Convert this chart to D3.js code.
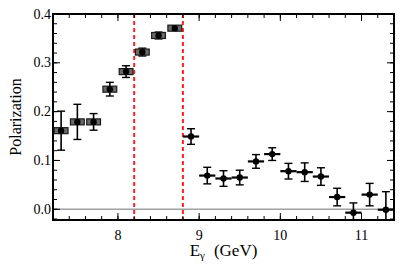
<!DOCTYPE html>
<html>
<head>
<meta charset="utf-8">
<script src="https://cdn.jsdelivr.net/npm/d3@7.9.0/dist/d3.min.js"></script>
<style>
  body { margin: 0; background: #fff; }
</style>
</head>
<body>
<div id="chart"></div>
<script>
// bin centres (GeV), polarization and its error
const energies = [7.3, 7.5, 7.7, 7.9, 8.1, 8.3, 8.5, 8.7, 8.9, 9.1, 9.3, 9.5, 9.7, 9.9, 10.1, 10.3, 10.5, 10.7, 10.9, 11.1, 11.3];
const polarization = [0.161, 0.179, 0.179, 0.246, 0.282, 0.322, 0.356, 0.371, 0.149, 0.069, 0.063, 0.065, 0.098, 0.113, 0.078, 0.076, 0.067, 0.025, -0.007, 0.030, -0.001];
const errors = [0.040, 0.036, 0.017, 0.014, 0.012, 0.008, 0.007, 0.005, 0.016, 0.017, 0.016, 0.015, 0.014, 0.013, 0.016, 0.019, 0.018, 0.018, 0.020, 0.023, 0.037];
// the coherent peak points are drawn as grey boxes
const boxed = [true, true, true, true, true, true, true, true, false, false, false, false, false, false, false, false, false, false, false, false, false];
const binHalfWidth = 0.1;
const cutLines = [8.2, 8.8];
const xTicks = [8, 9, 10, 11];
const yTicks = [0.0, 0.1, 0.2, 0.3, 0.4];

const width = 415;
const height = 267;
const margin = { top: 14, right: 21, bottom: 47, left: 53 };
const serif = "'Liberation Serif', 'Times New Roman', Times, 'DejaVu Serif', serif";

const svg = d3.select('#chart')
  .append('svg')
  .attr('width', width)
  .attr('height', height)
  .attr('font-family', serif)
  .style('font-family', serif);

const xScale = d3.scaleLinear()
  .domain([7.2, 11.4])
  .range([margin.left, width - margin.right]);

const yScale = d3.scaleLinear()
  .domain([-0.022, 0.4])
  .range([height - margin.bottom, margin.top]);

const data = energies.map((e, i) => ({
  e, p: polarization[i], err: errors[i], boxed: boxed[i]
}));

// zero line
svg.append('line')
  .attr('x1', xScale(7.2)).attr('x2', xScale(11.4))
  .attr('y1', yScale(0)).attr('y2', yScale(0))
  .attr('stroke', '#a0a0a0')
  .attr('stroke-width', 1.3);

// cut lines
svg.append('g')
  .selectAll('line')
  .data(cutLines)
  .join('line')
  .attr('x1', (d) => xScale(d)).attr('x2', (d) => xScale(d))
  .attr('y1', yScale(0.4)).attr('y2', yScale(-0.022))
  .attr('stroke', '#ff2020')
  .attr('stroke-width', 2)
  .attr('stroke-dasharray', '4,3');

// axes: ticks inward on all four sides
const innerW = width - margin.left - margin.right;
const innerH = height - margin.top - margin.bottom;
const xMinor = d3.range(7.2, 11.41, 0.2).map((d) => +d.toFixed(1));
const yMinor = d3.range(-0.02, 0.401, 0.02).map((d) => +d.toFixed(2));

function drawX(y, labels) {
  const g = svg.append('g').attr('transform', `translate(0, ${y})`);
  const dir = labels ? -1 : 1;
  g.selectAll('.minor').data(xMinor).join('line')
    .attr('x1', (d) => xScale(d)).attr('x2', (d) => xScale(d))
    .attr('y1', 0).attr('y2', dir * 4)
    .attr('stroke', '#000');
  g.selectAll('.major').data(xTicks).join('line')
    .attr('x1', (d) => xScale(d)).attr('x2', (d) => xScale(d))
    .attr('y1', 0).attr('y2', dir * 7)
    .attr('stroke', '#000');
  if (labels) {
    g.selectAll('text').data(xTicks).join('text')
      .attr('x', (d) => xScale(d))
      .attr('y', 20)
      .attr('text-anchor', 'middle')
      .attr('font-size', 14)
      .text((d) => d);
  }
}

function drawY(x, labels) {
  const g = svg.append('g').attr('transform', `translate(${x}, 0)`);
  const dir = labels ? 1 : -1;
  g.selectAll('.minor').data(yMinor).join('line')
    .attr('y1', (d) => yScale(d)).attr('y2', (d) => yScale(d))
    .attr('x1', 0).attr('x2', dir * 4)
    .attr('stroke', '#000');
  g.selectAll('.major').data(yTicks).join('line')
    .attr('y1', (d) => yScale(d)).attr('y2', (d) => yScale(d))
    .attr('x1', 0).attr('x2', dir * 7)
    .attr('stroke', '#000');
  if (labels) {
    g.selectAll('text').data(yTicks).join('text')
      .attr('x', -2)
      .attr('y', (d) => yScale(d) + 4.5)
      .attr('text-anchor', 'end')
      .attr('font-size', 14)
      .text((d) => d3.format('.1f')(d));
  }
}

drawX(height - margin.bottom, true);
drawX(margin.top, false);
drawY(margin.left, true);
drawY(width - margin.right, false);

// frame
svg.append('rect')
  .attr('x', margin.left).attr('y', margin.top)
  .attr('width', innerW).attr('height', innerH)
  .attr('fill', 'none')
  .attr('stroke', '#000')
  .attr('stroke-width', 2);

// points
const pts = svg.append('g');
const capW = 4;

pts.selectAll('.ebar').data(data).join('line')
  .attr('x1', (d) => xScale(d.e)).attr('x2', (d) => xScale(d.e))
  .attr('y1', (d) => yScale(d.p + d.err))
  .attr('y2', (d) => Math.min(yScale(d.p - d.err), yScale(-0.022)))
  .attr('stroke', '#000').attr('stroke-width', 1.6);

pts.selectAll('.cap-top').data(data).join('line')
  .attr('x1', (d) => xScale(d.e) - capW).attr('x2', (d) => xScale(d.e) + capW)
  .attr('y1', (d) => yScale(d.p + d.err)).attr('y2', (d) => yScale(d.p + d.err))
  .attr('stroke', '#000').attr('stroke-width', 1.4);

pts.selectAll('.cap-bot').data(data.filter((d) => d.p - d.err > -0.022)).join('line')
  .attr('x1', (d) => xScale(d.e) - capW).attr('x2', (d) => xScale(d.e) + capW)
  .attr('y1', (d) => yScale(d.p - d.err)).attr('y2', (d) => yScale(d.p - d.err))
  .attr('stroke', '#000').attr('stroke-width', 1.4);

pts.selectAll('.hbar').data(data.filter((d) => !d.boxed)).join('line')
  .attr('x1', (d) => xScale(d.e - binHalfWidth))
  .attr('x2', (d) => xScale(d.e + binHalfWidth))
  .attr('y1', (d) => yScale(d.p)).attr('y2', (d) => yScale(d.p))
  .attr('stroke', '#000').attr('stroke-width', 2.2);

pts.selectAll('.box').data(data.filter((d) => d.boxed)).join('rect')
  .attr('x', (d) => xScale(d.e - 0.085))
  .attr('width', (d) => xScale(d.e + 0.085) - xScale(d.e - 0.085))
  .attr('y', (d) => yScale(d.p) - 3)
  .attr('height', 6)
  .attr('fill', '#6a6a6a')
  .attr('stroke', '#1a1a1a')
  .attr('stroke-width', 1.2);

pts.selectAll('circle').data(data).join('circle')
  .attr('cx', (d) => xScale(d.e))
  .attr('cy', (d) => yScale(d.p))
  .attr('r', 3.2)
  .attr('fill', '#000');

// axis titles
svg.append('text')
  .attr('transform', `translate(21, ${margin.top + innerH / 2}) rotate(-90)`)
  .attr('text-anchor', 'middle')
  .attr('font-size', 16)
  .text('Polarization');

const xt = svg.append('text')
  .attr('x', xScale(9.3))
  .attr('y', 256)
  .attr('text-anchor', 'middle')
  .attr('font-size', 17);
xt.append('tspan').text('E');
xt.append('tspan').attr('font-size', 11).attr('dy', 3).text('γ');
xt.append('tspan').attr('dy', -3).attr('dx', 9).text('(GeV)');
</script>
</body>
</html>
